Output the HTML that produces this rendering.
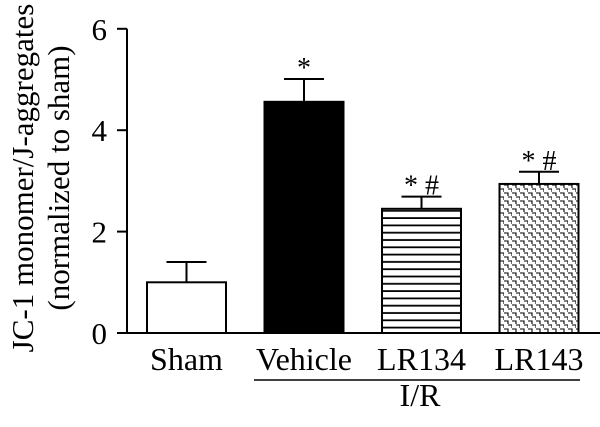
<!DOCTYPE html>
<html><head><meta charset="utf-8"><style>
body{margin:0;background:#fff;}
svg text{font-family:"Liberation Serif",serif;fill:#000;}
</style></head><body>
<svg width="600" height="422" viewBox="0 0 600 422" xmlns="http://www.w3.org/2000/svg">
<defs>
<pattern id="hstripe" width="8" height="7.3" patternUnits="userSpaceOnUse"><rect width="8" height="7.3" fill="#fff"/><rect y="5.5" width="8" height="2" fill="#000"/></pattern>
<pattern id="brick" width="8" height="8" patternUnits="userSpaceOnUse"><rect width="8" height="8" fill="#fff"/><path d="M0 1H4V4M4 5H8V8" stroke="#000" stroke-width="1.1" fill="none"/></pattern>
</defs>
<g id="chart"></g>
</svg>
<script>
const categories=["Sham","Vehicle","LR134","LR143"];
const means=[1.0,4.56,2.45,2.94];
const errors=[0.4,0.45,0.24,0.24];
const marks=["","*","* #","* #"];
const yTicks=[0,2,4,6];
const fills=["#fff","#000","url(#hstripe)","url(#brick)"];
const NS="http://www.w3.org/2000/svg";
const g=document.getElementById('chart');
const y0=333,yPer=50.7,x0=147,step=117.5,bw=79;
const Y=v=>y0-v*yPer;
const X=i=>x0+i*step;
function mk(t,a,txt){const e=document.createElementNS(NS,t);for(const k in a)e.setAttribute(k,a[k]);if(txt!=null)e.textContent=txt;g.appendChild(e);return e;}
let e;
e=mk('line',{x1:127,y1:Y(6),x2:127,y2:y0,stroke:'#000','stroke-width':2});


e=mk('line',{x1:117,y1:y0,x2:600,y2:y0,stroke:'#000','stroke-width':2});


yTicks.forEach(t=>{
 e=mk('line',{x1:117,y1:Y(t),x2:127,y2:Y(t),stroke:'#000','stroke-width':2});
 
 
 e=mk('text',{x:107,y:Y(t)+11,'font-size':31,'text-anchor':'end'},t);
 
 
});
categories.forEach((c,i)=>{
 const x=X(i),top=Y(means[i]),et=Y(means[i]+errors[i]),cx=x+bw/2;
 e=mk('line',{x1:cx,y1:top,x2:cx,y2:et,stroke:'#000','stroke-width':2});
 
 
 e=mk('line',{x1:cx-20,y1:et,x2:cx+20,y2:et,stroke:'#000','stroke-width':2});
 
 
 e=mk('rect',{x:x,y:top,width:bw,height:y0-top,fill:fills[i],stroke:'#000','stroke-width':2});
 
 
 if(marks[i]){
  e=mk('text',{x:cx,y:et-2,'font-size':28,'text-anchor':'middle'},marks[i]);
  
  
 }
 e=mk('text',{x:cx,y:370,'font-size':32,'text-anchor':'middle'},c);
 
 
});
e=mk('line',{x1:254,y1:380,x2:580,y2:380,stroke:'#000','stroke-width':1.5});


e=mk('text',{x:420,y:406,'font-size':32,'text-anchor':'middle'},'I/R');


e=mk('text',{x:0,y:0,'font-size':31,'text-anchor':'middle',transform:'translate(33,178) rotate(-90)'},'JC-1 monomer/J-aggregates');


e=mk('text',{x:0,y:0,'font-size':31,'text-anchor':'middle',transform:'translate(69,178) rotate(-90)'},'(normalized to sham)');


</script>
</body></html>
